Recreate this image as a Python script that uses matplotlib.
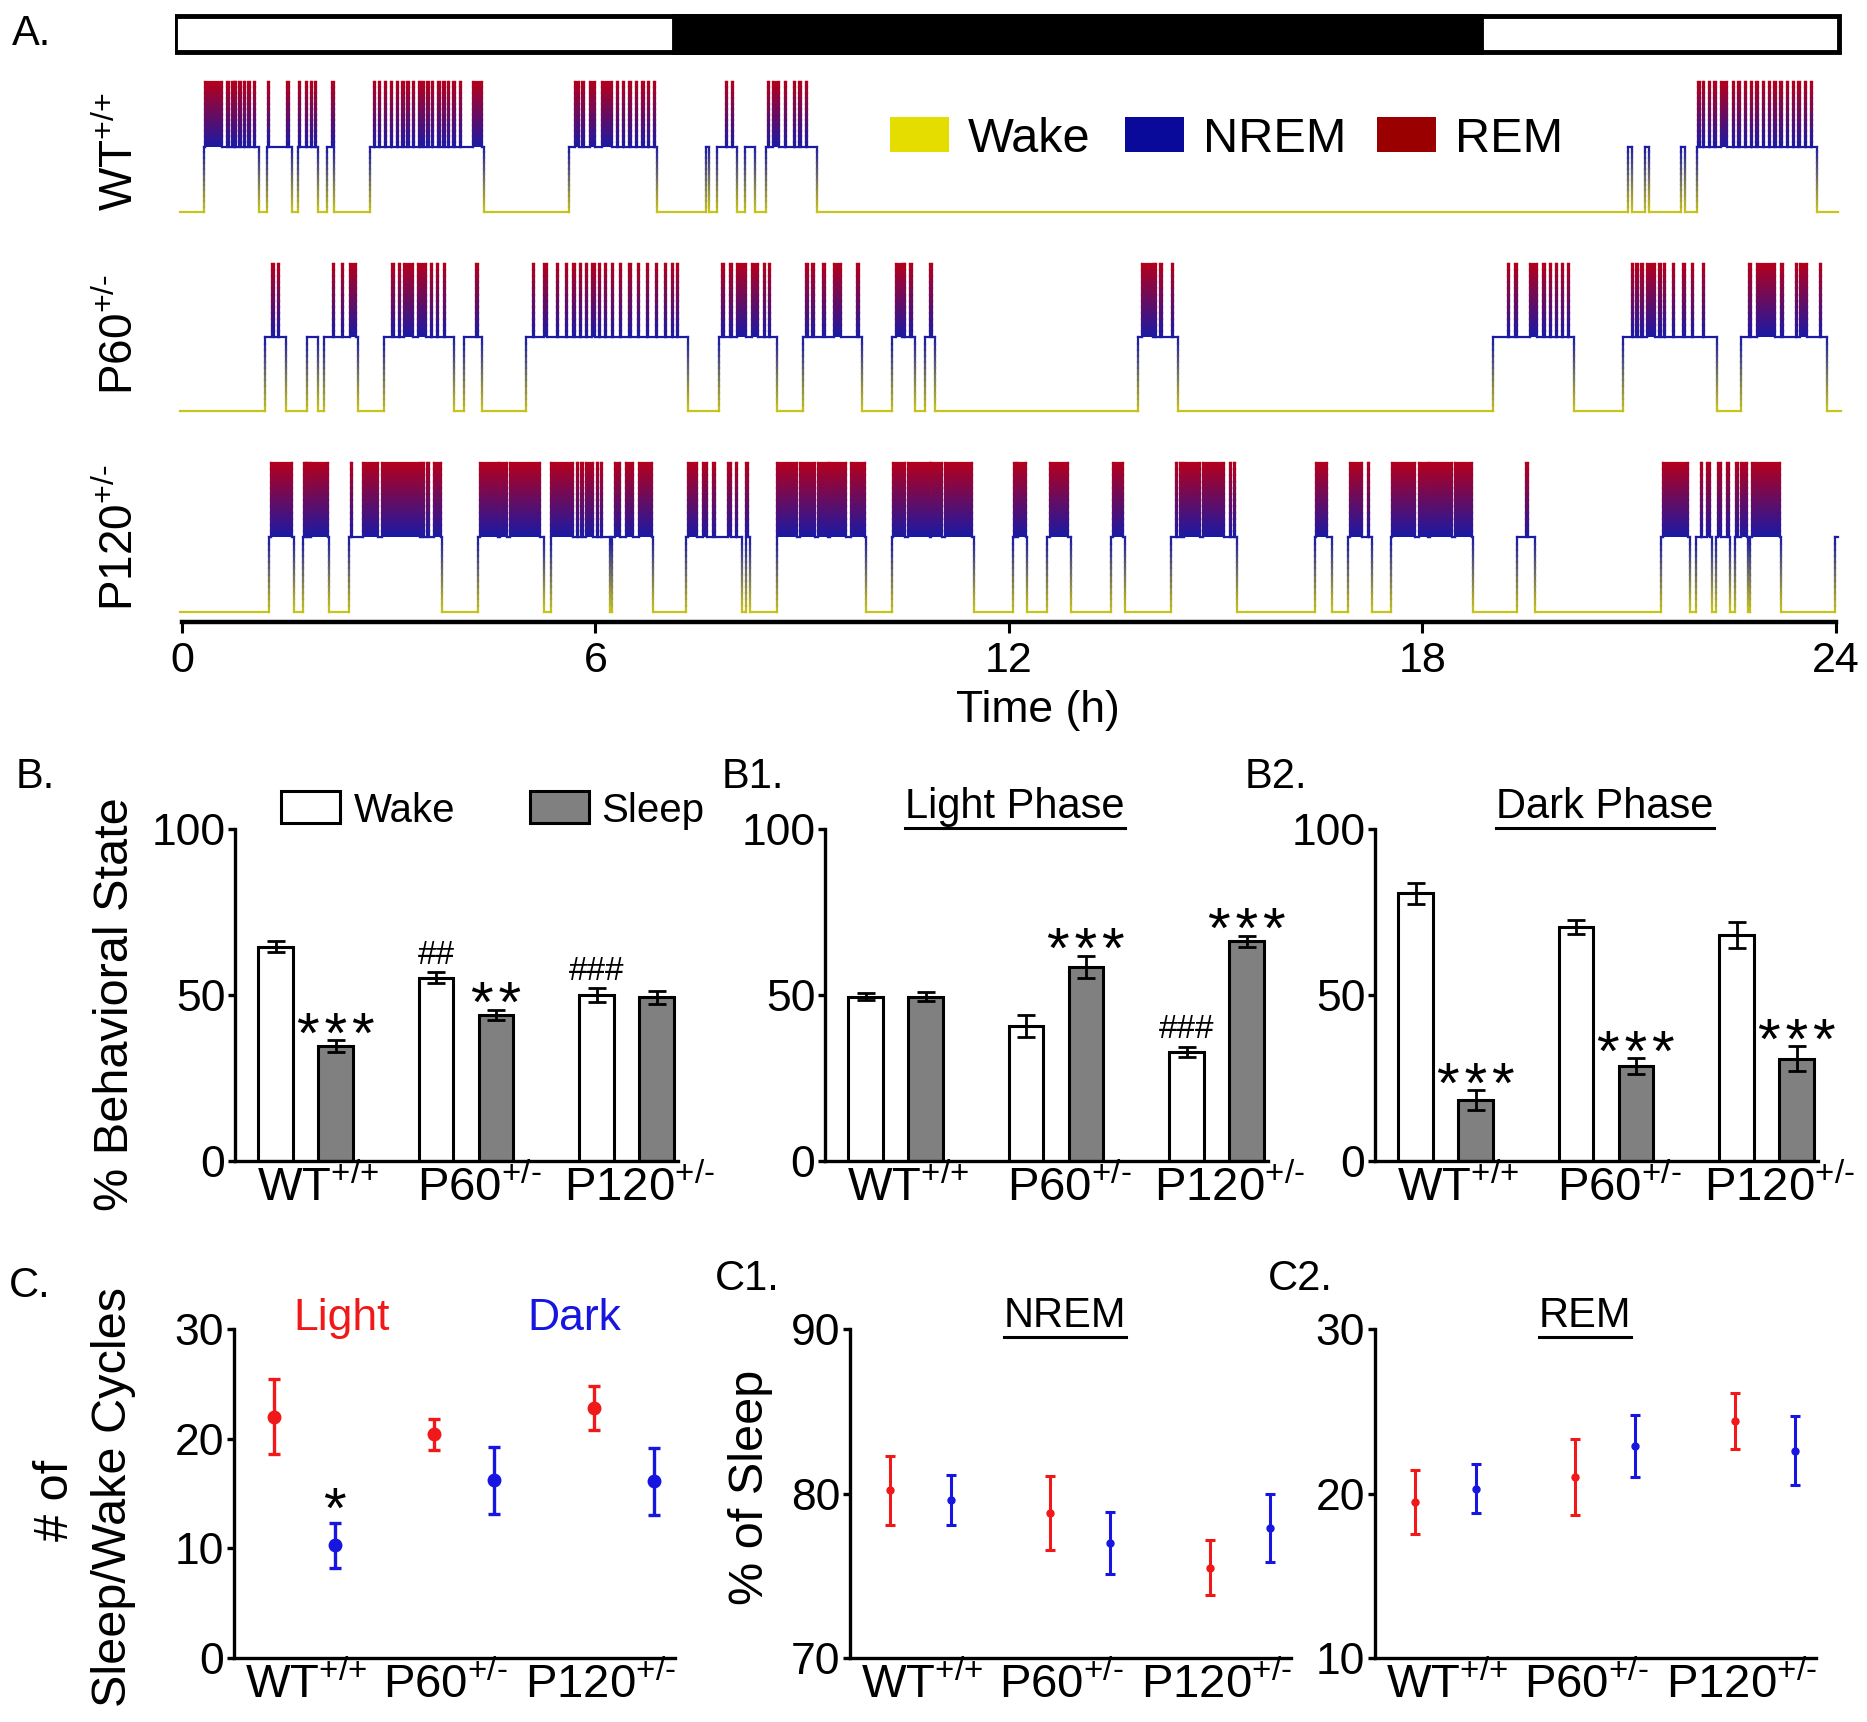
import numpy as np
import matplotlib
matplotlib.use("Agg")
import matplotlib.pyplot as plt
from matplotlib.collections import LineCollection
from matplotlib.colors import LinearSegmentedColormap
from matplotlib.patches import Rectangle, PathPatch
from matplotlib.path import Path
from matplotlib.lines import Line2D

plt.rcParams['font.family'] = ['Liberation Sans', 'DejaVu Sans']
plt.rcParams['mathtext.fontset'] = 'custom'
plt.rcParams['mathtext.rm'] = 'Liberation Sans'
plt.rcParams['mathtext.it'] = 'Liberation Sans:italic'
plt.rcParams['mathtext.bf'] = 'Liberation Sans:bold'

# ---------------- data ----------------
genotypes = [r'WT$^{\text{+/+}}$', r'P60$^{\text{+/-}}$', r'P120$^{\text{+/-}}$']

# light/dark bar (h)
dark_phase = (7.14, 18.85)

# hypnograms: sleep bouts (start, end) and REM episodes (start, end), in hours
wt_bouts = [(0.32, 1.12), (1.24, 1.60), (1.68, 1.97), (2.10, 2.21), (2.73, 4.39),
            (5.62, 6.90), (7.60, 7.65), (7.77, 8.06), (8.17, 8.32), (8.48, 9.21),
            (20.99, 21.04), (21.24, 21.29), (21.76, 21.82), (21.99, 23.73)]
wt_rem = [(0.33, 0.58), (0.66, 0.68), (0.73, 0.75), (0.77, 0.79), (0.83, 0.85),
          (0.90, 0.92), (0.96, 0.98), (1.04, 1.06),
          (1.25, 1.27), (1.53, 1.55),
          (1.70, 1.72), (1.80, 1.82), (1.87, 1.89), (1.93, 1.95),
          (2.18, 2.20),
          (2.78, 2.80), (2.86, 2.88), (2.94, 2.96), (3.03, 3.05), (3.12, 3.14),
          (3.20, 3.22), (3.27, 3.29), (3.35, 3.37), (3.44, 3.46), (3.49, 3.51),
          (3.56, 3.58), (3.63, 3.65), (3.72, 3.74), (3.79, 3.81), (3.86, 3.88),
          (3.94, 3.96), (4.03, 4.05), (4.22, 4.35),
          (5.71, 5.76), (5.80, 5.84), (5.92, 6.00), (6.09, 6.24), (6.31, 6.33),
          (6.40, 6.42), (6.49, 6.51), (6.59, 6.61), (6.68, 6.70), (6.76, 6.78),
          (6.85, 6.87),
          (7.89, 7.91), (7.98, 8.00),
          (8.50, 8.52), (8.58, 8.67), (8.75, 8.77), (8.88, 8.90), (8.96, 8.98),
          (9.05, 9.07),
          (22.01, 22.03), (22.07, 22.09), (22.16, 22.18), (22.24, 22.26),
          (22.34, 22.43), (22.51, 22.53), (22.59, 22.61), (22.68, 22.70),
          (22.77, 22.79), (22.85, 22.87), (22.94, 22.96), (23.03, 23.05),
          (23.11, 23.13), (23.20, 23.22), (23.29, 23.31), (23.38, 23.40),
          (23.46, 23.48), (23.55, 23.57), (23.64, 23.66)]

p60_bouts = [(1.21, 1.51), (1.81, 1.97), (2.06, 2.55), (2.93, 3.95), (4.09, 4.36),
             (5.00, 7.34), (7.80, 8.64), (9.02, 9.87), (10.30, 10.64), (10.78, 10.93),
             (13.88, 14.45), (19.03, 20.21), (20.92, 22.28), (22.63, 23.88)]
p60_rem = [(1.31, 1.33), (1.39, 1.41),
           (2.19, 2.21), (2.32, 2.34), (2.44, 2.53),
           (3.05, 3.07), (3.15, 3.17), (3.22, 3.36), (3.42, 3.54), (3.61, 3.63),
           (3.70, 3.72), (3.80, 3.82),
           (4.27, 4.29),
           (5.09, 5.11), (5.25, 5.30), (5.44, 5.46), (5.57, 5.59), (5.68, 5.70),
           (5.77, 5.79), (5.86, 5.88), (5.95, 6.00), (6.05, 6.07), (6.14, 6.16),
           (6.24, 6.26), (6.35, 6.37), (6.49, 6.51), (6.62, 6.64), (6.75, 6.77),
           (6.88, 6.90), (7.01, 7.03), (7.11, 7.13), (7.18, 7.20),
           (7.84, 7.86), (7.96, 7.98), (8.06, 8.19), (8.27, 8.36), (8.44, 8.46),
           (8.52, 8.54),
           (9.06, 9.08), (9.15, 9.17), (9.31, 9.33), (9.47, 9.56), (9.80, 9.82),
           (10.37, 10.45), (10.48, 10.50), (10.57, 10.59),
           (10.86, 10.89),
           (13.94, 14.10), (14.12, 14.14), (14.20, 14.22), (14.37, 14.39),
           (19.24, 19.26), (19.35, 19.37), (19.56, 19.66), (19.76, 19.78),
           (19.85, 19.87), (19.94, 19.96), (20.03, 20.05), (20.11, 20.13),
           (21.04, 21.06), (21.11, 21.13), (21.18, 21.20), (21.26, 21.38),
           (21.44, 21.46), (21.51, 21.53), (21.64, 21.66), (21.79, 21.81),
           (21.91, 21.93), (22.07, 22.09),
           (22.75, 22.77), (22.86, 23.12), (23.21, 23.23), (23.42, 23.44),
           (23.49, 23.58), (23.77, 23.79)]

p120_bouts = [(1.27, 1.62), (1.75, 2.13), (2.42, 3.77), (4.29, 5.26), (5.35, 6.21),
              (6.24, 6.84), (7.32, 8.13), (8.18, 8.25), (8.63, 9.93), (10.31, 11.49),
              (12.06, 12.27), (12.55, 12.90), (13.49, 13.68), (14.36, 15.31),
              (16.44, 16.69), (16.93, 17.27), (17.54, 18.73), (19.38, 19.63),
              (21.47, 21.89), (21.98, 22.21), (22.27, 22.47), (22.54, 22.73),
              (22.76, 23.21), (23.99, 24.03)]
p120_rem = [(1.29, 1.60),
            (1.77, 1.80), (1.82, 1.84), (1.87, 2.12),
            (2.45, 2.47), (2.62, 2.84), (2.90, 3.45), (3.49, 3.51), (3.56, 3.58),
            (3.66, 3.76),
            (4.32, 4.58), (4.62, 4.71), (4.76, 5.19),
            (5.35, 5.67), (5.73, 5.75), (5.79, 5.82), (5.87, 5.97), (6.02, 6.04),
            (6.08, 6.10),
            (6.28, 6.36), (6.45, 6.54), (6.63, 6.82),
            (7.35, 7.47), (7.56, 7.62), (7.71, 7.73), (7.92, 7.97), (8.04, 8.06),
            (8.19, 8.22),
            (8.63, 8.93), (8.97, 9.19), (9.23, 9.37), (9.41, 9.63), (9.71, 9.92),
            (10.32, 10.50), (10.54, 10.85), (10.87, 11.03), (11.07, 11.46),
            (12.07, 12.10), (12.14, 12.25),
            (12.60, 12.86),
            (13.51, 13.66),
            (14.42, 14.44), (14.48, 14.51), (14.55, 14.77), (14.82, 15.12),
            (15.21, 15.23), (15.27, 15.29),
            (16.46, 16.62),
            (16.95, 17.12), (17.21, 17.23),
            (17.56, 17.90), (17.95, 18.08), (18.12, 18.43), (18.47, 18.72),
            (19.50, 19.53),
            (21.49, 21.86),
            (22.04, 22.06), (22.13, 22.17),
            (22.30, 22.33), (22.42, 22.45),
            (22.56, 22.59), (22.63, 22.72),
            (22.78, 23.20)]

hyp_bouts = [wt_bouts, p60_bouts, p120_bouts]
hyp_rem = [wt_rem, p60_rem, p120_rem]
hyp_end = [24.03, 24.08, 24.03]

# B: % behavioral state (mean, sem)
b_wake = [64.6, 55.2, 50.0]
b_wake_err = [1.7, 1.7, 2.0]
b_sleep = [34.6, 44.0, 49.3]
b_sleep_err = [1.8, 1.6, 2.0]
b_wake_sig = ['', '##', '###']
b_sleep_sig = ['***', '**', '']

b1_wake = [49.5, 40.7, 32.8]
b1_wake_err = [1.0, 3.4, 1.6]
b1_sleep = [49.5, 58.4, 66.2]
b1_sleep_err = [1.3, 3.4, 1.7]
b1_wake_sig = ['', '', '###']
b1_sleep_sig = ['', '***', '***']

b2_wake = [80.6, 70.5, 68.0]
b2_wake_err = [3.1, 2.1, 3.9]
b2_sleep = [18.3, 28.6, 30.8]
b2_sleep_err = [3.0, 2.3, 3.8]
b2_wake_sig = ['', '', '']
b2_sleep_sig = ['***', '***', '***']

# C: sleep/wake cycles, NREM and REM % of sleep (mean, sem)
c_light = [22.0, 20.4, 22.8]
c_light_err = [3.4, 1.4, 2.0]
c_dark = [10.3, 16.2, 16.1]
c_dark_err = [2.05, 3.05, 3.05]
c_dark_sig = ['*', '', '']

c1_light = [80.2, 78.8, 75.5]
c1_light_err = [2.1, 2.25, 1.7]
c1_dark = [79.6, 77.0, 77.9]
c1_dark_err = [1.5, 1.9, 2.05]

c2_light = [19.5, 21.0, 24.4]
c2_light_err = [1.95, 2.3, 1.7]
c2_dark = [20.3, 22.9, 22.6]
c2_dark_err = [1.5, 1.9, 2.1]

# ---------------- figure ----------------
W, H = 1867, 1722
fig = plt.figure(figsize=(W / 100, H / 100), dpi=100)
SPINE_LW = 2.4
RED, BLUE = '#f01818', '#1616e0'
HS = '\u200a'  # hair space between the stars


def px_axes(l, t, r, b):
    return fig.add_axes([l / W, 1 - b / H, (r - l) / W, (b - t) / H])


def ftext(x, y, s, **kw):
    return fig.text(x / W, 1 - y / H, s, **kw)


def underlined(x, y, s, size=30):
    t = ftext(x, y, s, ha='center', va='baseline', fontsize=size)
    bb = t.get_window_extent(fig.canvas.get_renderer())
    yl = 1 - (y + 10) / H
    fig.add_artist(Line2D([bb.x0 / W, bb.x1 / W], [yl, yl], color='black',
                          lw=2.2, transform=fig.transFigure))


# ---- A: hypnograms ----
cmap = LinearSegmentedColormap.from_list('hyp', ['#c8c41e', '#1a1aa6', '#b4001c'])
XL = (-0.1, 24.1)


def hyp_points(bouts, rems, t_end):
    pts = [(-0.03, 0)]
    for s, e in bouts:
        pts += [(s, 0), (s, 1)]
        for rs, re_ in rems:
            if s <= rs < e:
                pts += [(rs, 1), (rs, 2), (re_, 2), (re_, 1)]
        if e >= t_end:
            pts.append((t_end, 1))
            return pts
        pts += [(e, 1), (e, 0)]
    pts.append((t_end, 0))
    return pts


def draw_hyp(ax, bouts, rems, t_end):
    pts = hyp_points(bouts, rems, t_end)
    segs, cols = [], []
    for (x0, y0), (x1, y1) in zip(pts[:-1], pts[1:]):
        if y0 == y1:
            segs.append([(x0, y0), (x1, y1)])
            cols.append(cmap(y0 / 2))
        else:
            ys = np.linspace(y0, y1, 13)
            for a, b in zip(ys[:-1], ys[1:]):
                segs.append([(x0, a), (x0, b)])
                cols.append(cmap((a + b) / 4))
    ax.add_collection(LineCollection(segs, colors=cols, linewidths=1.6,
                                     capstyle='projecting'))
    verts, codes = [], []
    for rs, re_ in rems:
        verts += [(rs, 1), (re_, 1), (re_, 2), (rs, 2), (rs, 1)]
        codes += [Path.MOVETO, Path.LINETO, Path.LINETO, Path.LINETO, Path.CLOSEPOLY]
    grad = np.linspace(0.5, 1, 200).reshape(-1, 1)
    im = ax.imshow(grad, extent=(XL[0], XL[1], 1, 2), origin='lower', aspect='auto',
                   cmap=cmap, vmin=0, vmax=1, interpolation='bilinear')
    im.set_clip_path(PathPatch(Path(verts, codes), transform=ax.transData))


# light / dark bar
ax_bar = px_axes(175.1, 12, 1842.5, 56)
ax_bar.set_xlim(*XL)
ax_bar.set_ylim(0, 1)
ax_bar.axis('off')
ax_bar.add_patch(Rectangle((-0.1, 0.1), 24.15, 0.8, fc='white', ec='black', lw=3.5))
ax_bar.add_patch(Rectangle((dark_phase[0], 0.1), dark_phase[1] - dark_phase[0], 0.8,
                           fc='black', ec='black', lw=3.5))

row_px = [(69, 225, -0.2), (249.3, 425.7, -0.2), (448, 621.6, -0.13)]
row_label_y = [152, 335, 538]
for i in range(3):
    t, b, y0 = row_px[i]
    ax = px_axes(175.1, t, 1842.5, b)
    draw_hyp(ax, hyp_bouts[i], hyp_rem[i], hyp_end[i])
    ax.set_xlim(*XL)
    ax.set_ylim(y0, 2.2)
    ax.set_yticks([])
    for sp in ['left', 'right', 'top', 'bottom']:
        ax.spines[sp].set_visible(False)
    ftext(120, row_label_y[i], genotypes[i], rotation=90, ha='center', va='center',
          fontsize=33)
    if i < 2:
        ax.set_xticks([])
    else:
        ax.spines['bottom'].set_visible(True)
        ax.spines['bottom'].set_bounds(0, 24)
        ax.spines['bottom'].set_linewidth(3.2)
        ax.set_xticks([0, 6, 12, 18, 24])
        ax.tick_params(axis='x', length=8, width=2.2, labelsize=31, pad=6)

ftext(1038, 722, 'Time (h)', ha='center', va='baseline', fontsize=32)
ftext(12, 45, 'A.', fontsize=30, va='baseline')

# A legend
for x0, col, lab in [(890, '#e5dc00', 'Wake'), (1125, '#0a0a9a', 'NREM'),
                     (1377, '#9a0000', 'REM')]:
    fig.add_artist(Rectangle((x0 / W, 1 - 152 / H), 59 / W, 35 / H, fc=col, ec='none',
                             transform=fig.transFigure))
    ftext(x0 + 78, 152, lab, va='baseline', fontsize=35)


# ---- B: bar panels ----
def style_axes(ax, label_pos):
    for sp in ['right', 'top']:
        ax.spines[sp].set_visible(False)
    for sp in ['left', 'bottom']:
        ax.spines[sp].set_linewidth(SPINE_LW)
    ax.set_xticks(label_pos)
    ax.set_xticklabels(genotypes)
    ax.tick_params(axis='y', length=5, width=SPINE_LW, labelsize=32, pad=2)
    ax.tick_params(axis='x', length=0, labelsize=34, pad=3)


def sig_marks(ax, xs, tops, marks):
    for x, top, m in zip(xs, tops, marks):
        if not m:
            continue
        if '*' in m:
            ax.annotate(HS.join(m), (x, top), xytext=(0, -9), textcoords='offset points',
                        ha='center', va='baseline', fontsize=42)
        else:
            ax.annotate(m, (x, top), xytext=(0, 6), textcoords='offset points',
                        ha='center', va='baseline', fontsize=24)


def bar_panel(left, wake, wake_err, sleep, sleep_err, wake_sig, sleep_sig):
    ax = px_axes(left, 829, left + 443, 1161)
    x = np.arange(3)
    off, bw = 0.1875, 0.215
    ax.bar(x - off, wake, bw, color='white', edgecolor='black', lw=2.2, zorder=2)
    ax.bar(x + off, sleep, bw, color='#808080', edgecolor='black', lw=2.2, zorder=2)
    ax.errorbar(x - off, wake, wake_err, fmt='none', ecolor='black', elinewidth=2,
                capsize=6.5, capthick=2, zorder=3)
    ax.errorbar(x + off, sleep, sleep_err, fmt='none', ecolor='black', elinewidth=2,
                capsize=6.5, capthick=2, zorder=3)
    sig_marks(ax, x - off, np.add(wake, wake_err), wake_sig)
    sig_marks(ax, x + off, np.add(sleep, sleep_err), sleep_sig)
    ax.set_xlim(-0.44, 2.32)
    ax.set_ylim(0, 100)
    ax.set_yticks([0, 50, 100])
    style_axes(ax, x + 0.08)
    return ax


bar_panel(235, b_wake, b_wake_err, b_sleep, b_sleep_err, b_wake_sig, b_sleep_sig)
bar_panel(825, b1_wake, b1_wake_err, b1_sleep, b1_sleep_err, b1_wake_sig, b1_sleep_sig)
bar_panel(1375, b2_wake, b2_wake_err, b2_sleep, b2_sleep_err, b2_wake_sig, b2_sleep_sig)

ftext(16, 788, 'B.', fontsize=30, va='baseline')
ftext(722, 788, 'B1.', fontsize=30, va='baseline')
ftext(1245, 788, 'B2.', fontsize=30, va='baseline')
ftext(115, 1004, '% Behavioral State', rotation=90, ha='center', va='center',
      fontsize=35)
underlined(1015, 818, 'Light Phase')
underlined(1605, 818, 'Dark Phase')

# B legend
fig.add_artist(Rectangle((281 / W, 1 - 823 / H), 59 / W, 32 / H, fc='white', ec='black',
                         lw=2.2, transform=fig.transFigure))
ftext(354, 822, 'Wake', va='baseline', fontsize=29)
fig.add_artist(Rectangle((530 / W, 1 - 823 / H), 59 / W, 32 / H, fc='#808080',
                         ec='black', lw=2.2, transform=fig.transFigure))
ftext(601, 822, 'Sleep', va='baseline', fontsize=29)


# ---- C: dot panels ----
def dot_panel(left, ylim, yticks, light, light_err, dark, dark_err, big, dark_sig=None):
    ax = px_axes(left, 1329, left + 441, 1658)
    x = np.arange(3)
    off = 0.19
    if big:
        kw = dict(fmt='o', ms=9, elinewidth=2.4, capsize=4.5, capthick=2.4)
    else:
        kw = dict(fmt='o', ms=5, elinewidth=2.2, capsize=3.5, capthick=2.2)
    ax.errorbar(x - off, light, light_err, color=RED, ecolor=RED, **kw)
    ax.errorbar(x + off, dark, dark_err, color=BLUE, ecolor=BLUE, **kw)
    if dark_sig:
        for xi, top, m in zip(x + off, np.add(dark, dark_err), dark_sig):
            if m:
                ax.annotate(m, (xi, top), xytext=(0, -4), textcoords='offset points',
                            ha='center', va='baseline', fontsize=42)
    ax.set_xlim(-0.44, 2.32)
    ax.set_ylim(*ylim)
    ax.set_yticks(yticks)
    style_axes(ax, x + np.array([0.01, -0.12, -0.15]))
    return ax


dot_panel(234, (0, 30), [0, 10, 20, 30], c_light, c_light_err, c_dark, c_dark_err,
          True, c_dark_sig)
dot_panel(850, (70, 90), [70, 80, 90], c1_light, c1_light_err, c1_dark, c1_dark_err,
          False)
dot_panel(1375, (10, 30), [10, 20, 30], c2_light, c2_light_err, c2_dark, c2_dark_err,
          False)

ftext(9, 1297, 'C.', fontsize=30, va='baseline')
ftext(715, 1290, 'C1.', fontsize=30, va='baseline')
ftext(1268, 1290, 'C2.', fontsize=30, va='baseline')
ftext(342, 1330, 'Light', color=RED, ha='center', va='baseline', fontsize=32)
ftext(574, 1330, 'Dark', color=BLUE, ha='center', va='baseline', fontsize=32)
ftext(55, 1500, '# of', rotation=90, ha='center', va='center', fontsize=35)
ftext(113, 1497, 'Sleep/Wake Cycles', rotation=90, ha='center', va='center',
      fontsize=35)
ftext(750, 1487, '% of Sleep', rotation=90, ha='center', va='center', fontsize=35)
underlined(1065, 1327, 'NREM')
underlined(1585, 1327, 'REM')

fig.savefig('out.png', dpi=100)
